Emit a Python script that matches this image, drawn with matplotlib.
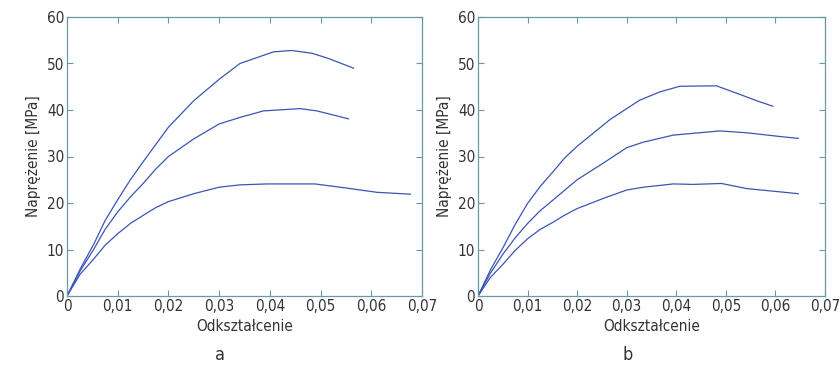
import matplotlib
matplotlib.use("Agg")
import matplotlib.pyplot as plt
from matplotlib.ticker import FuncFormatter

plt.rcParams['font.family'] = ['DejaVu Sans']
plt.rcParams['font.stretch'] = 'condensed'

# panel a
a_top_x = [0, 0.0026, 0.0053, 0.0075, 0.01, 0.0125, 0.0151, 0.02, 0.025, 0.03, 0.0341, 0.0407, 0.0443, 0.0483, 0.0515, 0.0565]
a_top_y = [0, 5.8, 11.2, 16.2, 20.7, 25.0, 29, 36.3, 42, 46.6, 50.0, 52.5, 52.8, 52.2, 51.1, 49.0]
a_mid_x = [0, 0.0026, 0.0053, 0.0075, 0.01, 0.0125, 0.0151, 0.0175, 0.02, 0.025, 0.03, 0.0341, 0.0387, 0.046, 0.0493, 0.0555]
a_mid_y = [0, 5.4, 10.1, 14.3, 18.1, 21.3, 24.3, 27.3, 30, 33.8, 37.0, 38.4, 39.8, 40.3, 39.8, 38.1]
a_low_x = [0, 0.0026, 0.0053, 0.0075, 0.01, 0.0125, 0.0151, 0.0175, 0.02, 0.025, 0.03, 0.0341, 0.0394, 0.0489, 0.0552, 0.0611, 0.0677]
a_low_y = [0, 4.7, 8.0, 10.9, 13.4, 15.6, 17.4, 19.0, 20.3, 22.0, 23.4, 23.9, 24.1, 24.1, 23.2, 22.3, 21.9]

# panel b
b_top_x = [0, 0.0025, 0.0051, 0.0075, 0.01, 0.0125, 0.0152, 0.0175, 0.02, 0.0267, 0.0326, 0.0367, 0.0407, 0.0481, 0.0522, 0.0562, 0.0595]
b_top_y = [0, 5.6, 10.5, 15.4, 19.9, 23.5, 26.8, 29.7, 32.2, 38.0, 42.1, 43.9, 45.1, 45.2, 43.6, 42.0, 40.8]
b_mid_x = [0, 0.0025, 0.0051, 0.0075, 0.01, 0.0125, 0.0152, 0.02, 0.0253, 0.03, 0.0334, 0.0394, 0.0488, 0.0542, 0.0609, 0.0646]
b_mid_y = [0, 4.9, 9.1, 12.5, 15.6, 18.3, 20.7, 25.0, 28.6, 31.9, 33.1, 34.6, 35.5, 35.1, 34.3, 33.9]
b_low_x = [0, 0.0025, 0.0051, 0.0075, 0.01, 0.0125, 0.0152, 0.0175, 0.02, 0.0253, 0.03, 0.0334, 0.0394, 0.0434, 0.0491, 0.0542, 0.0609, 0.0646]
b_low_y = [0, 4.0, 6.9, 9.8, 12.3, 14.3, 15.9, 17.4, 18.8, 21.0, 22.8, 23.4, 24.1, 24.0, 24.2, 23.1, 22.4, 22.0]

x_ticks = [0, 0.01, 0.02, 0.03, 0.04, 0.05, 0.06, 0.07]
y_ticks = [0, 10, 20, 30, 40, 50, 60]

line_col = '#3a55b5'
spine_col = '#6a9aa4'
text_col = '#333333'

fig = plt.figure(figsize=(8.4, 3.74), dpi=100)
ax_a = fig.add_axes([67/840, 1 - 296/374, 355/840, 279/374])
ax_b = fig.add_axes([478/840, 1 - 296/374, 347/840, 279/374])

fmt = FuncFormatter(lambda v, p: '0' if v == 0 else ('%.2f' % v).replace('.', ','))

panels = [
    (ax_a, [(a_top_x, a_top_y), (a_mid_x, a_mid_y), (a_low_x, a_low_y)], 'a'),
    (ax_b, [(b_top_x, b_top_y), (b_mid_x, b_mid_y), (b_low_x, b_low_y)], 'b'),
]

for ax, curves, letter in panels:
    for xs, ys in curves:
        ax.plot(xs, ys, color=line_col, lw=0.9)
    ax.set_xlim(0, 0.07)
    ax.set_ylim(0, 60)
    ax.set_xticks(x_ticks)
    ax.set_yticks(y_ticks)
    ax.xaxis.set_major_formatter(fmt)
    ax.tick_params(direction='in', top=True, right=True, length=4, width=0.8,
                   color=spine_col, labelsize=11, labelcolor=text_col, pad=2)
    for s in ax.spines.values():
        s.set_color(spine_col)
        s.set_linewidth(0.9)
    ax.set_xlabel('Odkształcenie', fontsize=11, color=text_col, labelpad=4)
    ax.set_ylabel('Naprężenie [MPa]', fontsize=11, color=text_col, labelpad=4)
    ax.text(0.43, -0.212, letter, transform=ax.transAxes, ha='center', va='center',
            fontsize=13, color=text_col)

fig.savefig('out.png', dpi=100)
